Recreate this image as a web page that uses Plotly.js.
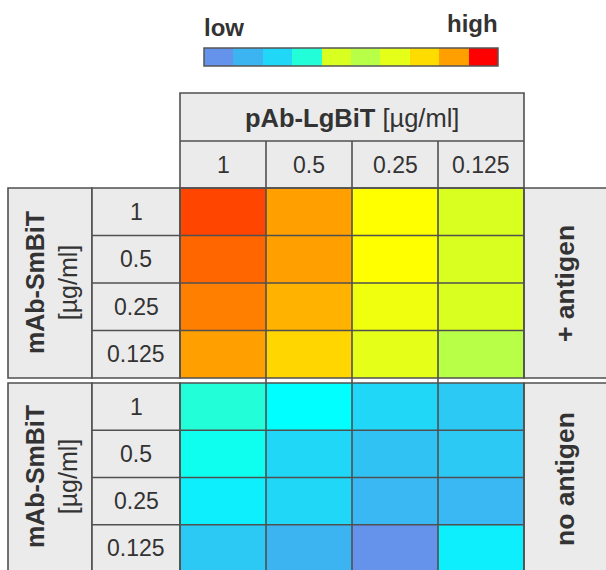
<!DOCTYPE html>
<html>
<head>
<meta charset="utf-8">
<script src="https://cdn.plot.ly/plotly-3.0.1.min.js"></script>
<style>html,body{margin:0;padding:0;background:#fff;}#chart{width:606px;height:570px;}</style>
</head>
<body>
<div id="chart"></div>
<script>
// ---- data ----
const colLabels = ['1', '0.5', '0.25', '0.125'];          // pAb-LgBiT [µg/ml]
const rowLabels = ['1', '0.5', '0.25', '0.125'];          // mAb-SmBiT [µg/ml]
const withAntigen = [                                      // signal level (0-100), + antigen
  [90.7, 85, 70, 45],
  [88.6, 85, 70, 45],
  [87, 82, 67, 45],
  [85, 76, 65, 55]
];
const noAntigen = [                                        // signal level (0-100), no antigen
  [35, 30, 25, 21],
  [32, 25, 19, 21],
  [28, 25, 16, 16],
  [21, 15, 5, 28]
];
const legendLevels = [5, 15, 25, 35, 45, 55, 65, 75, 85, 95];
const legendEnds = ['low', 'high'];
const blockLabels = ['+ antigen', 'no antigen'];
const axisTitleCol = ['pAb-LgBiT', '[µg/ml]'];
const axisTitleRow = ['mAb-SmBiT', '[µg/ml]'];

// ---- styling ----
const W = 606, H = 570;
const X = p => p / W;
const Y = p => 1 - p / H;
const FONT = 'Liberation Sans, Arial, Helvetica, sans-serif';
const TXT = '#333333';
const GRAY = '#EBEBEB';
const LINE = '#505050';
const LW = 1.6;

const colorscale = [
  [0.00, '#6592EA'], [0.05, '#6592EA'], [0.15, '#3DB4F2'], [0.25, '#20D7F7'],
  [0.30, '#00FFFF'], [0.35, '#22FFD8'], [0.45, '#D8FF20'], [0.55, '#B8FF48'],
  [0.65, '#E6FF18'], [0.70, '#FFFF00'], [0.75, '#FFDC00'], [0.85, '#FFA000'],
  [0.95, '#FF0000'], [1.00, '#FF0000']
];

const colRange = [-0.5, 3.5];
const topRange = [3.5, -0.5];
const botRange = [3.458, -0.5];

const traces = [
  {type: 'heatmap', x: colLabels, y: rowLabels, z: withAntigen, xaxis: 'x', yaxis: 'y',
   colorscale: colorscale, zmin: 0, zmax: 100, showscale: false, hoverinfo: 'skip'},
  {type: 'heatmap', x: colLabels, y: rowLabels, z: noAntigen, xaxis: 'x', yaxis: 'y2',
   colorscale: colorscale, zmin: 0, zmax: 100, showscale: false, hoverinfo: 'skip'},
  {type: 'heatmap', z: [legendLevels], xaxis: 'x3', yaxis: 'y3',
   colorscale: colorscale, zmin: 0, zmax: 100, showscale: false, hoverinfo: 'skip'}
];

const hidden = {visible: false, showgrid: false, zeroline: false, fixedrange: true};

// fraction of an axis domain for a category index, given its range
function idxFrac(i, range) { return (i - range[0]) / (range[1] - range[0]); }
function idxFracY(i, range) { return (range[0] - i) / (range[0] - range[1]); }

const shapes = [];
function rect(x0, y0, x1, y1, fill, color) {
  shapes.push({type: 'rect', xref: 'paper', yref: 'paper', x0: X(x0), x1: X(x1), y0: Y(y0), y1: Y(y1),
    fillcolor: fill || 'rgba(0,0,0,0)', line: {color: color || LINE, width: LW}, layer: 'above'});
}
function hline(x0, x1, yref, yv) {
  shapes.push({type: 'line', xref: 'paper', yref: yref, x0: X(x0), x1: X(x1), y0: yv, y1: yv,
    line: {color: LINE, width: LW}, layer: 'above'});
}
// header
rect(180, 93, 524, 188, GRAY);
hline(180, 524, 'paper', Y(141));
// blocks
[[188, 378], [383, 576]].forEach(([t, b]) => {
  rect(8, t, 92, b, GRAY);
  rect(92, t, 180, b, GRAY);
  rect(524, t, 615, b, GRAY);
  rect(180, t, 524, b, null);
});
// row dividers
for (let k = 1; k < rowLabels.length; k++) {
  hline(92, 524, 'y domain', idxFracY(k - 0.5, topRange));
  hline(92, 524, 'y2 domain', idxFracY(k - 0.5, botRange));
}
// column dividers
for (let k = 1; k < colLabels.length; k++) {
  const f = idxFrac(k - 0.5, colRange);
  shapes.push({type: 'line', xref: 'x domain', yref: 'paper', x0: f, x1: f,
    y0: Y(141), y1: Y(575), line: {color: LINE, width: LW}, layer: 'above'});
}
// legend outline
shapes.push({type: 'rect', xref: 'x3 domain', yref: 'y3 domain', x0: 0, x1: 1, y0: 0, y1: 1,
  line: {color: '#555555', width: 1.5}, layer: 'above'});

const annotations = [];
function ann(o) {
  annotations.push(Object.assign({showarrow: false, font: {family: FONT, size: 23, color: TXT}}, o));
}
// legend ends
ann({text: '<b>' + legendEnds[0] + '</b>', xref: 'paper', yref: 'paper', x: X(202), y: Y(27),
  xanchor: 'left', yanchor: 'middle', font: {family: FONT, size: 24, color: TXT}});
ann({text: '<b>' + legendEnds[1] + '</b>', xref: 'paper', yref: 'paper', x: X(500), y: Y(23),
  xanchor: 'right', yanchor: 'middle', font: {family: FONT, size: 24, color: TXT}});
// header title
ann({text: '<b>' + axisTitleCol[0] + '</b> ' + axisTitleCol[1], xref: 'paper', yref: 'paper',
  x: X(352), y: Y(118), xanchor: 'center', yanchor: 'middle', font: {family: FONT, size: 25.5, color: TXT}});
// column labels
colLabels.forEach((c, i) => ann({text: c, xref: 'x domain', yref: 'paper', x: idxFrac(i, colRange), y: Y(165),
  xanchor: 'center', yanchor: 'middle'}));
// row labels
rowLabels.forEach((r, i) => {
  ann({text: r, xref: 'paper', yref: 'y domain', x: X(136), y: idxFracY(i, topRange), xanchor: 'center', yanchor: 'middle'});
  ann({text: r, xref: 'paper', yref: 'y2 domain', x: X(136), y: idxFracY(i, botRange), xanchor: 'center', yanchor: 'middle'});
});
// side titles
[283, 477].forEach(cy => ann({text: '<b>' + axisTitleRow[0] + '</b><br>' + axisTitleRow[1], xref: 'paper', yref: 'paper',
  x: X(51), y: Y(cy), xanchor: 'center', yanchor: 'middle', textangle: -90,
  font: {family: FONT, size: 25, color: TXT}}));
ann({text: '<b>' + blockLabels[0] + '</b>', xref: 'paper', yref: 'paper', x: X(565), y: Y(284),
  xanchor: 'center', yanchor: 'middle', textangle: -90, font: {family: FONT, size: 26.5, color: TXT}});
ann({text: '<b>' + blockLabels[1] + '</b>', xref: 'paper', yref: 'paper', x: X(565), y: Y(479),
  xanchor: 'center', yanchor: 'middle', textangle: -90, font: {family: FONT, size: 26.5, color: TXT}});

const layout = {
  width: W, height: H, margin: {l: 0, r: 0, t: 0, b: 0},
  paper_bgcolor: '#ffffff', plot_bgcolor: 'rgba(0,0,0,0)', showlegend: false,
  xaxis: Object.assign({}, hidden, {type: 'category', domain: [X(180), X(524)], range: colRange, anchor: 'y'}),
  yaxis: Object.assign({}, hidden, {type: 'category', domain: [Y(378), Y(188)], range: topRange, anchor: 'x'}),
  yaxis2: Object.assign({}, hidden, {type: 'category', domain: [0, Y(383)], range: botRange, anchor: 'x'}),
  xaxis3: Object.assign({}, hidden, {domain: [X(204), X(498)], range: [-0.5, 9.5], anchor: 'y3'}),
  yaxis3: Object.assign({}, hidden, {domain: [Y(66), Y(48)], range: [-0.5, 0.5], anchor: 'x3'}),
  shapes: shapes, annotations: annotations
};

Plotly.newPlot('chart', traces, layout, {staticPlot: true, displayModeBar: false});
</script>
</body>
</html>
